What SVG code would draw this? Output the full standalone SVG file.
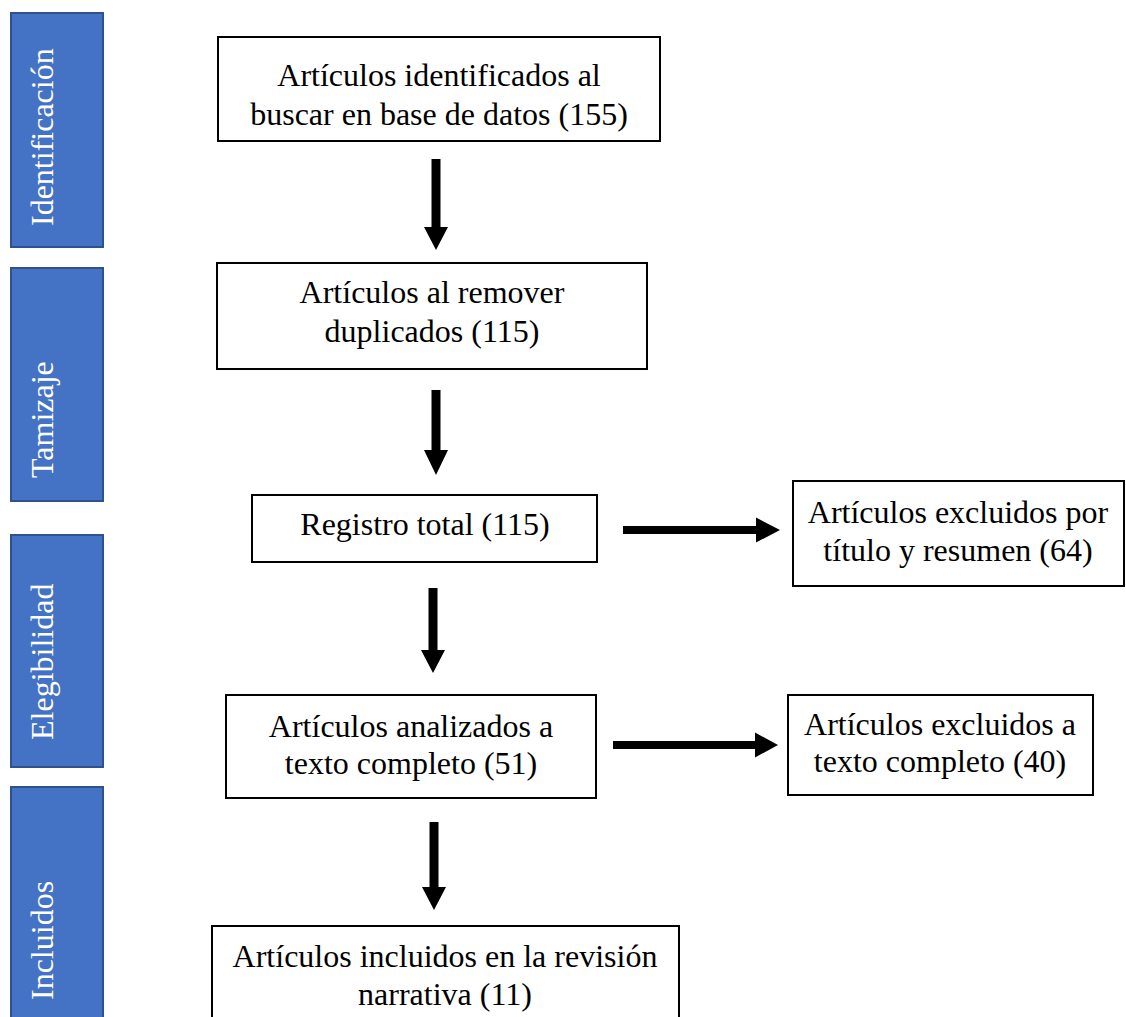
<svg xmlns="http://www.w3.org/2000/svg" width="1126" height="1017" viewBox="0 0 1126 1017">
<style>
.phase{fill:#4472C4;stroke:#2F528F;stroke-width:2}
.ptxt{fill:#FFFFFF;font-family:"Liberation Serif","Times New Roman",serif;font-size:32px}
.box{fill:#FFFFFF;stroke:#000000;stroke-width:2}
.txt{fill:#000000;font-family:"Liberation Serif","Times New Roman",serif;font-size:32px;text-anchor:middle}
.arr{fill:#000000}
</style>
<rect width="1126" height="1017" fill="#FFFFFF"/>
<g id="phase-identificacion">
<rect class="phase" x="11" y="13" width="92" height="234"/>
<text class="ptxt" transform="translate(53,226) rotate(-90)">Identificación</text>
</g>
<g id="phase-tamizaje">
<rect class="phase" x="11" y="268" width="92" height="233"/>
<text class="ptxt" transform="translate(53,478) rotate(-90)">Tamizaje</text>
</g>
<g id="phase-elegibilidad">
<rect class="phase" x="11" y="535" width="92" height="232"/>
<text class="ptxt" transform="translate(53,740) rotate(-90)">Elegibilidad</text>
</g>
<g id="phase-incluidos">
<rect class="phase" x="11" y="787" width="92" height="240"/>
<text class="ptxt" transform="translate(53,1000) rotate(-90)">Incluidos</text>
</g>
<g id="node-identificados">
<rect class="box" x="218" y="37" width="442" height="104"/>
<text class="txt" x="439" y="86">Artículos identificados al</text>
<text class="txt" x="439" y="125">buscar en base de datos (155)</text>
</g>
<g id="node-duplicados">
<rect class="box" x="217" y="263" width="430" height="106"/>
<text class="txt" x="432" y="303">Artículos al remover</text>
<text class="txt" x="432" y="342">duplicados (115)</text>
</g>
<g id="node-registro">
<rect class="box" x="252" y="495" width="345" height="67"/>
<text class="txt" x="425" y="535">Registro total (115)</text>
</g>
<g id="node-excluidos-titulo">
<rect class="box" x="793" y="481" width="331" height="105"/>
<text class="txt" x="958" y="523">Artículos excluidos por</text>
<text class="txt" x="958" y="561">título y resumen (64)</text>
</g>
<g id="node-analizados">
<rect class="box" x="226" y="695" width="370" height="103"/>
<text class="txt" x="411" y="737">Artículos analizados a</text>
<text class="txt" x="411" y="774">texto completo (51)</text>
</g>
<g id="node-excluidos-texto">
<rect class="box" x="788" y="695" width="305" height="100"/>
<text class="txt" x="940" y="735">Artículos excluidos a</text>
<text class="txt" x="940" y="772">texto completo (40)</text>
</g>
<g id="node-incluidos">
<rect class="box" x="212" y="926" width="467" height="100"/>
<text class="txt" x="445" y="967">Artículos incluidos en la revisión</text>
<text class="txt" x="445" y="1005">narrativa (11)</text>
</g>
<g id="connectors">
<polygon class="arr" points="431.5,159 440.5,159 440.5,227 448,227 436,250 424,227 431.5,227"/>
<polygon class="arr" points="431.5,390 440.5,390 440.5,450 448,450 436,475 424,450 431.5,450"/>
<polygon class="arr" points="428.5,588 437.5,588 437.5,650 445,650 433,673 421,650 428.5,650"/>
<polygon class="arr" points="429.5,822 438.5,822 438.5,887 446,887 434,910 422,887 429.5,887"/>
<polygon class="arr" points="623,526 756,526 756,517.5 780,530 756,542.5 756,534 623,534"/>
<polygon class="arr" points="613,741 755,741 755,732.5 778,745 755,757.5 755,749 613,749"/>
</g>
</svg>
